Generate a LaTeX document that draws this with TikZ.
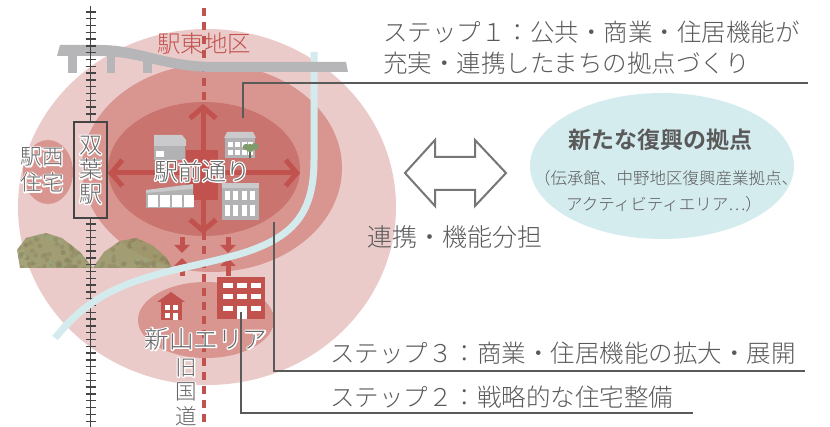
\documentclass[tikz,border=0pt]{standalone}
\usepackage{fontspec}
\setmainfont{Noto Sans CJK JP}[UprightFont={* Light}, BoldFont={* Bold}]
\usetikzlibrary{arrows.meta}

\definecolor{outerpink}{HTML}{EBCBCA}
\definecolor{midpink}{HTML}{D99590}
\definecolor{innerred}{HTML}{C9746F}
\definecolor{arrowred}{HTML}{C1524E}
\definecolor{riverblue}{HTML}{D4EBEE}
\definecolor{hubblue}{HTML}{D5ECEF}
\definecolor{roadgray}{HTML}{B6B6B8}
\definecolor{railgray}{HTML}{454545}
\definecolor{leadergray}{HTML}{5A5A5A}
\definecolor{txtgray}{HTML}{5A5A5A}
\definecolor{halogray}{HTML}{666666}
\definecolor{bldg}{HTML}{B2B2B4}
\definecolor{bldglight}{HTML}{CACACC}
\definecolor{treegreen}{HTML}{7F9B6C}
\definecolor{forestA}{HTML}{999768}
\definecolor{forestB}{HTML}{7A7A52}
\definecolor{forestC}{HTML}{8FA070}
\definecolor{dblarrow}{HTML}{767676}

% white-rimmed lettering: a white stroked copy under the grey fill
\newcommand\halo[1]{\makebox[0pt][l]{\special{pdf:literal direct q 1 Tr 2.6 w 1 1 1 RG 1 j}#1\special{pdf:literal direct Q}}#1}

\tikzset{
  railline/.style={draw=railgray, line width=1.4pt},
  leader/.style={draw=leadergray, line width=1.3pt},
  oldroad/.style={draw=arrowred, line width=4pt, dash pattern=on 8pt off 6pt},
  crossarrow/.style={draw=arrowred, line width=5pt,
    -{Straight Barb[length=11pt,width=26pt,line width=5pt]}},
  smallarrow/.style={draw=arrowred, line width=5pt,
    -{Triangle[length=8pt,width=15pt]}},
  steptext/.style={text=txtgray, font=\fontsize{24.5}{24.5}\selectfont,
    inner sep=0pt, anchor=west},
  halotext/.style={text=halogray, inner sep=0pt, align=center},
}

\newcommand\railtrack{%
  \draw[railline] (90.5,6) -- (90.5,122);
  \draw[railline] (90.5,218) -- (90.5,427);
  \foreach \ty in {12,18.8,...,118} {\draw[railline] (85.5,\ty) -- (95.5,\ty);}
  \foreach \ty in {224,230.8,...,427} {\draw[railline] (85.5,\ty) -- (95.5,\ty);}
}

\begin{document}
\begin{tikzpicture}[x=1pt,y=-1pt]
\fill[white] (0,0) rectangle (830,427);
\useasboundingbox (0,0) rectangle (830,427);

% ---- zones around the station ----
\fill[outerpink] (207,207) ellipse [x radius=189, y radius=178];
\fill[midpink] (212,168) ellipse [x radius=130, y radius=104];
\fill[midpink] (206,320) ellipse [x radius=68, y radius=38];
\fill[midpink] (48,172) ellipse [x radius=25, y radius=32];
\fill[innerred] (204,169) ellipse [x radius=96, y radius=67];

% ---- new reconstruction hub ----
\fill[hubblue] (662,166) ellipse [x radius=132, y radius=73];

% ---- old national road ----
\draw[oldroad] (204,8) -- (204,427);

% ---- forest ----
\begin{scope}[opacity=0.88, transparency group]
  \clip (20,268) -- (17,250) -- (26,238) -- (46,233) -- (62,238)
        -- (80,252) -- (93,268) -- cycle
        (93,268) -- (104,252) -- (120,241) -- (136,238) -- (152,245)
        -- (166,257) -- (172,268) -- cycle;
  \fill[forestA] (10,225) rectangle (180,272);
  \pgfmathsetseed{12}
  \foreach \i in {1,...,150} {
    \pgfmathsetmacro\px{14+162*rnd}
    \pgfmathsetmacro\py{230+40*rnd}
    \fill[forestB, opacity=0.45] (\px,\py) circle (2.4);
  }
  \foreach \i in {1,...,40} {
    \pgfmathsetmacro\px{14+162*rnd}
    \pgfmathsetmacro\py{230+40*rnd}
    \fill[forestC, opacity=0.8] (\px,\py) circle (2.2);
  }
\end{scope}

% ---- station-front street arrows ----
\fill[arrowred] (186,150) rectangle (218,200);
\draw[crossarrow] (203,173) -- (300,173);
\draw[crossarrow] (203,173) -- (108,173);
\draw[crossarrow] (203,173) -- (203,104);
\draw[crossarrow] (203,173) -- (203,234);

% ---- buildings along the street ----
\fill[bldg] (154,140) rectangle (185,160);
\fill[bldglight] (154,135) -- (182,135) -- (186,140) -- (186,146) -- (154,146) -- cycle;
\fill[white] (156,151) rectangle (164,157);

\fill[bldglight] (227,132) -- (253,132) -- (256,138) -- (224,138) -- cycle;
\fill[bldg] (225,138) rectangle (255,158);
\foreach \wx in {228,235,242,248} {
  \fill[white] (\wx,142) rectangle ++(5,5);
  \fill[white] (\wx,150) rectangle ++(5,5);
}
\draw[treegreen!70!black, line width=1.2pt] (250,150) -- (250,158);
\fill[treegreen] (250,148) circle (4.2);
\fill[treegreen] (255,146.5) circle (3.6);
\fill[treegreen] (246,147) circle (3.2);

\fill[bldglight] (146,190) -- (193,184) -- (193,190) -- (146,194) -- cycle;
\fill[bldg] (146,193) -- (193,189) -- (193,208) -- (146,208) -- cycle;
\foreach \wx in {148,160,172,184} {
  \fill[white] (\wx,195) rectangle ++(10,12);
}

\fill[bldglight] (222,183) rectangle (259,188);
\fill[bldg] (222,188) rectangle (259,220);
\foreach \wx in {225,233,242,250} {
  \fill[white] (\wx,191) rectangle ++(5,9);
  \fill[white] (\wx,205) rectangle ++(5,11);
}

% ---- links between the street and Niiyama ----
\draw[smallarrow] (182,237) -- (182,253);
\draw[smallarrow] (228,237) -- (228,253);
\draw[smallarrow] (182,276) -- (182,258);
\draw[smallarrow] (228,276) -- (228,258);

% ---- Niiyama area icons ----
\fill[arrowred] (157,302) -- (171,292) -- (185,302) -- cycle;
\fill[arrowred] (161,301) rectangle (182,320);
\fill[white] (165,305) rectangle (170,310);
\fill[white] (173,305) rectangle (178,310);
\fill[white] (165,313) rectangle (170,318);
\fill[white] (173,313) rectangle (178,320);

\fill[arrowred] (217,277) rectangle (265,319);
\foreach \wx in {223,237,251} {
  \fill[white] (\wx,283) rectangle ++(10,5);
  \fill[white] (\wx,294) rectangle ++(10,5);
}
\fill[white] (223,306) rectangle ++(10,5);
\fill[white] (251,306) rectangle ++(10,5);
\fill[white] (237,306) rectangle (247,319);

% ---- railway, river, elevated road ----
\railtrack
\draw[riverblue, line width=7pt] (314,52) -- (314,160)
  .. controls (314,215) and (292,238) .. (240,254)
  .. controls (190,268) and (150,272) .. (110,292)
  .. controls (85,305) and (70,320) .. (55,338);
\fill[roadgray] (68,52) rectangle (77,73);
\fill[roadgray] (107,52) rectangle (115,73);
\fill[roadgray] (143,58) rectangle (152,73);
\fill[roadgray] (60,45) -- (100,45)
  .. controls (140,45) and (165,62) .. (215,62) -- (346,62) -- (348,72)
  -- (215,72) .. controls (165,72) and (140,56) .. (100,56) -- (57,56) -- cycle;
\begin{scope}
  \clip (80,38) rectangle (100,80);
  \railtrack
\end{scope}

% ---- station ----
\draw[draw=railgray, line width=1.4pt] (74,122) rectangle (107,218);

% ---- place names ----
\node[text=arrowred, font=\fontsize{23.5}{23.5}\selectfont, inner sep=0pt] (east) at (204,44) {駅東地区};
\node[halotext, font=\fontsize{23}{24.5}\selectfont] (station) at (90.5,170) {\halo{双}\\\halo{葉}\\\halo{駅}};
\node[halotext, font=\fontsize{21.5}{26}\selectfont] (west) at (42,170) {\halo{駅西}\\\halo{住宅}};
\node[halotext, font=\fontsize{24}{24}\selectfont] (street) at (202,171) {\halo{駅前通り}};
\node[halotext, font=\fontsize{24.5}{24.5}\selectfont] (niiyama) at (206,339) {\halo{新山エリア}};
\node[halotext, font=\fontsize{21.5}{24.5}\selectfont] (oldroadname) at (186,392) {\halo{旧}\\\halo{国}\\\halo{道}};

% ---- link to the hub ----
\draw[draw=dblarrow, line width=2pt, fill=white, line join=miter] (405,173) -- (435,140) -- (435,157)
  -- (475,157) -- (475,140) -- (506,173) -- (475,206) -- (475,190)
  -- (435,190) -- (435,206) -- cycle;
\node[text=txtgray, font=\fontsize{25}{25}\selectfont, inner sep=0pt] (share) at (455,237) {連携・機能分担};

\node[text=txtgray, font=\bfseries\fontsize{23}{23}\selectfont, inner sep=0pt] (hub) at (660,140) {新たな復興の拠点};
\node[text=txtgray, font=\fontsize{16.5}{16.5}\selectfont, inner sep=0pt] (hubnote1) at (666,178) {（伝承館、中野地区復興産業拠点、};
\node[text=txtgray, font=\fontsize{16.5}{16.5}\selectfont, inner sep=0pt] (hubnote2) at (664,204) {アクティビティエリア…）};

% ---- steps ----
\node[steptext] (step1a) at (383,32) {ステップ１：公共・商業・住居機能が};
\node[steptext] (step1b) at (383,63) {充実・連携したまちの拠点づくり};
\node[steptext] (step3) at (330,353) {ステップ３：商業・住居機能の拡大・展開};
\node[steptext] (step2) at (330,397) {ステップ２：戦略的な住宅整備};

\coordinate (l1s) at (243,118);
\coordinate (l1e) at (808,83);
\coordinate (l3s) at (274,222);
\coordinate (l3e) at (805,371);
\coordinate (l2s) at (241,312);
\coordinate (l2e) at (693,413);
\draw[leader] (l1s) |- (l1e);
\draw[leader] (l3s) |- (l3e);
\draw[leader] (l2s) |- (l2e);
\end{tikzpicture}
\end{document}
